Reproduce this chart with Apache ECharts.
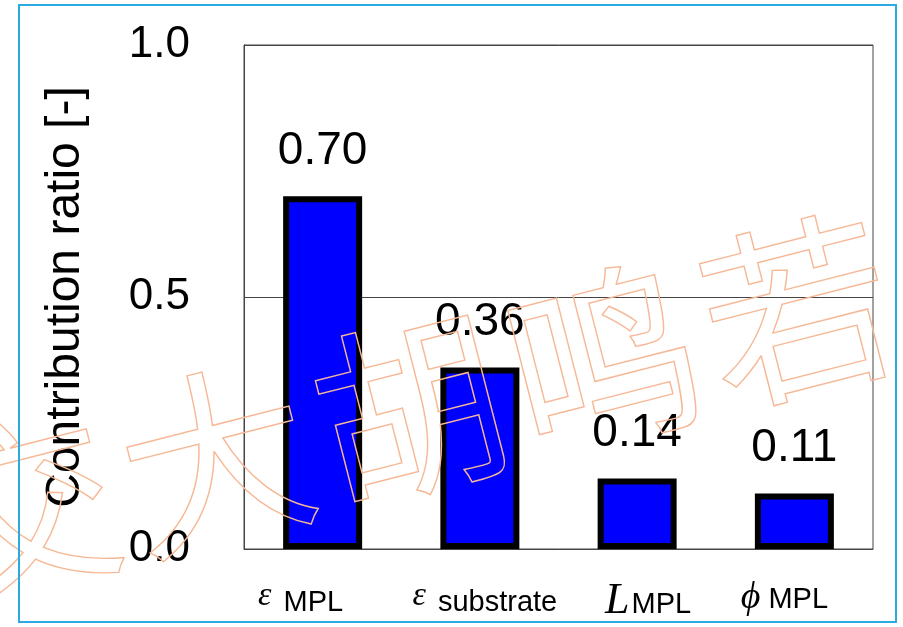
<!DOCTYPE html>
<html>
<head>
<meta charset="utf-8">
<script src="https://cdn.jsdelivr.net/npm/echarts@6/dist/echarts.min.js"></script>
<style>
  html, body { margin: 0; padding: 0; background: #fff; }
  #chart { width: 903px; height: 627px; }
</style>
</head>
<body>
<div id="chart"></div>
<script>
// Contribution ratio of each parameter
const categories = ['eps_mpl', 'eps_sub', 'l_mpl', 'phi_mpl'];
const values = [0.70, 0.36, 0.14, 0.11];
const valueLabels = ['0.70', '0.36', '0.14', '0.11'];
const yTicks = [0, 0.5, 1.0];

// Axis label markup: italic symbol followed by an upright subscript
const categoryRich = {
  eps_mpl: '{eps|ε}{sub|MPL}',
  eps_sub: '{eps|ε}{sub|substrate}',
  l_mpl: '{ital|L}{subL|MPL}',
  phi_mpl: '{phi|ϕ}{sub|MPL}'
};
// Small horizontal nudges of the category labels
const categoryPadding = {
  eps_mpl: [0, 44, 0, 0],
  eps_sub: [0, 0, 0, 10],
  l_mpl: [0, 0, 0, 22],
  phi_mpl: [0, 20, 0, 0]
};

const watermarkChars = ['交', '大', '胡', '鸣', '若'];

const chart = echarts.init(document.getElementById('chart'), null, { renderer: 'canvas' });

// Outline-only watermark text running diagonally across the figure
const wmAngle = 0.25;
const wmStart = [22, 508];
const wmStep = 200;
const watermark = watermarkChars.map((ch, i) => ({
  type: 'text',
  x: wmStart[0] + i * wmStep * Math.cos(wmAngle),
  y: wmStart[1] - i * wmStep * Math.sin(wmAngle),
  rotation: wmAngle,
  z: 100,
  silent: true,
  style: {
    text: ch,
    font: '190px "Noto Sans CJK SC"',
    fill: 'rgba(0,0,0,0)',
    stroke: '#f6b896',
    lineWidth: 1.4,
    align: 'center',
    verticalAlign: 'middle'
  }
}));

const serif = '"Liberation Serif", "Times New Roman", serif';
const sans = '"Liberation Sans", Arial, sans-serif';

const option = {
  backgroundColor: '#ffffff',
  animation: false,
  grid: {
    left: 244, right: 30, top: 45, bottom: 78,
    show: true, borderColor: '#444', borderWidth: 1
  },
  xAxis: {
    type: 'category',
    data: categories.map(c => ({ value: c, textStyle: { padding: categoryPadding[c] } })),
    axisLine: { show: true, lineStyle: { color: '#444', width: 1 } },
    axisTick: { show: false },
    axisLabel: {
      margin: 30,
      formatter: v => categoryRich[v],
      rich: {
        eps: { fontFamily: serif, fontStyle: 'italic', fontSize: 34, color: '#000', padding: [0, 12, 14, 0] },
        ital: { fontFamily: serif, fontStyle: 'italic', fontSize: 44, color: '#000', padding: [0, 0, 8, 0] },
        phi: { fontFamily: serif, fontStyle: 'italic', fontSize: 38, color: '#000', padding: [0, 8, 4, 0] },
        sub: { fontFamily: sans, fontSize: 29, color: '#000' },
        subL: { fontFamily: sans, fontSize: 29, color: '#000', padding: [0, 0, 0, 2] }
      }
    }
  },
  yAxis: {
    type: 'value',
    min: yTicks[0],
    max: yTicks[yTicks.length - 1],
    interval: yTicks[1] - yTicks[0],
    name: 'Contribution ratio [-]',
    nameLocation: 'middle',
    nameGap: 154,
    nameTextStyle: { fontFamily: sans, fontSize: 48, color: '#000' },
    axisLine: { show: true, lineStyle: { color: '#444', width: 1 } },
    axisTick: { show: false },
    splitLine: { show: true, lineStyle: { color: '#444', width: 1 } },
    axisLabel: {
      margin: 54,
      fontFamily: sans,
      fontSize: 44,
      color: '#000',
      formatter: v => v.toFixed(1)
    }
  },
  series: [{
    type: 'bar',
    data: values,
    barWidth: 79,
    itemStyle: { color: '#0000ff', borderColor: '#000', borderWidth: 6 },
    label: {
      show: true,
      position: 'top',
      distance: 22,
      fontFamily: sans,
      fontSize: 46,
      color: '#000',
      formatter: p => valueLabels[p.dataIndex]
    }
  }],
  graphic: [
    {
      type: 'rect',
      shape: { x: 19, y: 5, width: 877, height: 617 },
      z: 101,
      silent: true,
      style: { fill: 'none', stroke: '#29abe2', lineWidth: 2 }
    }
  ].concat(watermark)
};

chart.setOption(option);
</script>
</body>
</html>
